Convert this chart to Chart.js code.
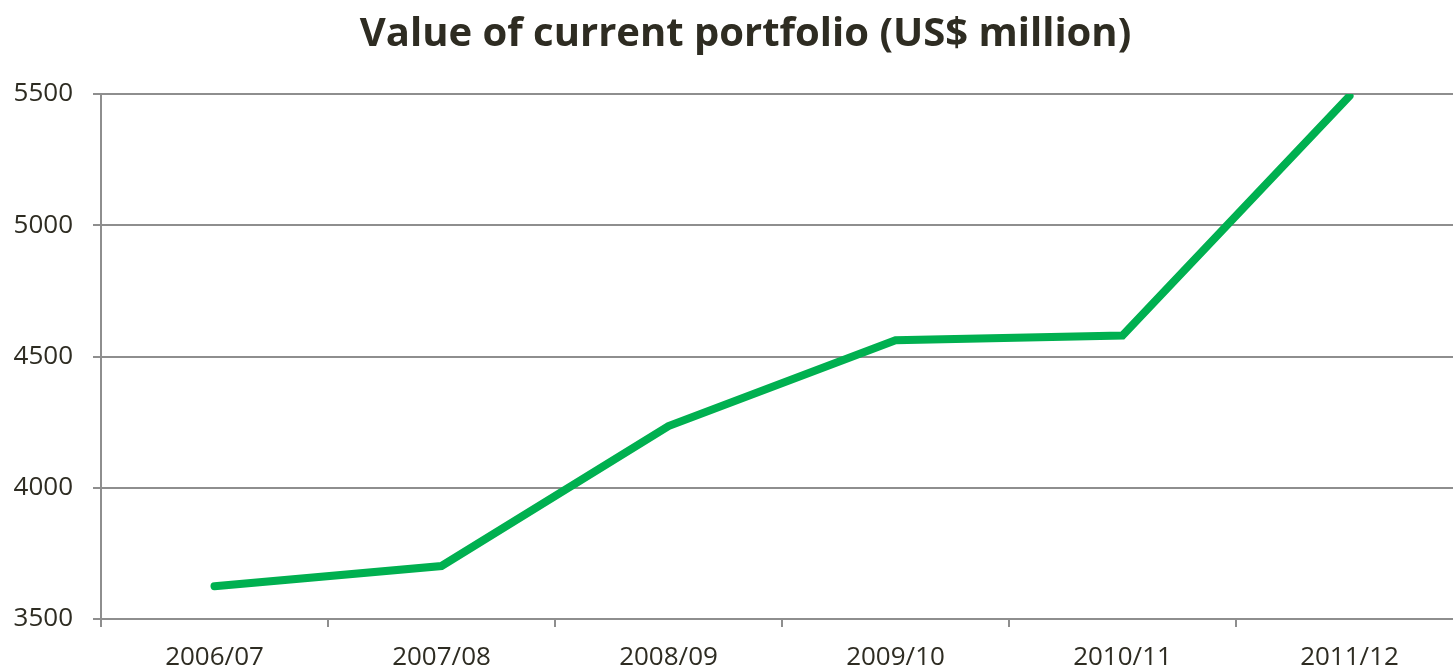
<!DOCTYPE html>
<html>
<head>
<meta charset="utf-8">
<script src="https://cdn.jsdelivr.net/npm/chart.js@4"></script>
<style>
  html, body { margin: 0; padding: 0; background: #fff; overflow: hidden; }
  #wrap { width: 1490px; height: 669px; }
</style>
</head>
<body>
<div id="wrap"><canvas id="portfolioChart"></canvas></div>
<script>
const years = ['2006/07', '2007/08', '2008/09', '2009/10', '2010/11', '2011/12'];
const portfolioValues = [3625, 3702, 4235, 4562, 4580, 5492];
const yTicks = [3500, 4000, 4500, 5000, 5500];

const gridGray = '#8e8e8e';
const textDark = '#2e2c22';

// the left padding only exists to centre the title; let the y labels use it too
const unclipYLabels = {
    id: 'unclipYLabels',
    beforeDraw(chart) { chart.scales.y.left = 0; }
};

new Chart(document.getElementById('portfolioChart').getContext('2d'), {
    type: 'line',
    data: {
        labels: years,
        datasets: [{
            label: 'Value of current portfolio',
            data: portfolioValues,
            borderColor: '#00b050',
            borderWidth: 8,
            pointRadius: 0,
            tension: 0,
            borderCapStyle: 'round',
            borderJoinStyle: 'miter'
        }]
    },
    options: {
        responsive: true,
        maintainAspectRatio: false,
        animation: false,
        devicePixelRatio: 1,
        layout: { padding: { left: 28, right: 27, top: 0, bottom: 0 } },
        plugins: {
            legend: { display: false },
            tooltip: { enabled: false },
            title: {
                display: true,
                text: 'Value of current portfolio (US$ million)',
                color: textDark,
                font: { family: '"Open Sans", sans-serif', size: 40, weight: 'bold', lineHeight: 1.2 },
                padding: { top: 11, bottom: 35 }
            }
        },
        scales: {
            x: {
                offset: true,
                grid: { offset: true, drawOnChartArea: false, drawTicks: true, tickLength: 8, color: gridGray, lineWidth: 2 },
                border: { display: true, color: gridGray, width: 2 },
                ticks: { color: textDark, font: { family: '"Open Sans", sans-serif', size: 26 }, padding: 15, maxRotation: 0 },
                afterFit: axis => { axis.height = 50; }
            },
            y: {
                min: yTicks[0],
                max: yTicks[yTicks.length - 1],
                afterBuildTicks: axis => { axis.ticks = yTicks.map(v => ({ value: v })); },
                grid: { color: gridGray, lineWidth: 2, tickLength: 8 },
                border: { display: true, color: gridGray, width: 2 },
                ticks: {
                    color: textDark,
                    font: { family: '"Open Sans", sans-serif', size: 26 },
                    padding: 20,
                    callback: value => String(value)
                },
                afterFit: axis => { axis.width = 73; }
            }
        }
    },
    plugins: [unclipYLabels]
});
</script>
</body>
</html>
